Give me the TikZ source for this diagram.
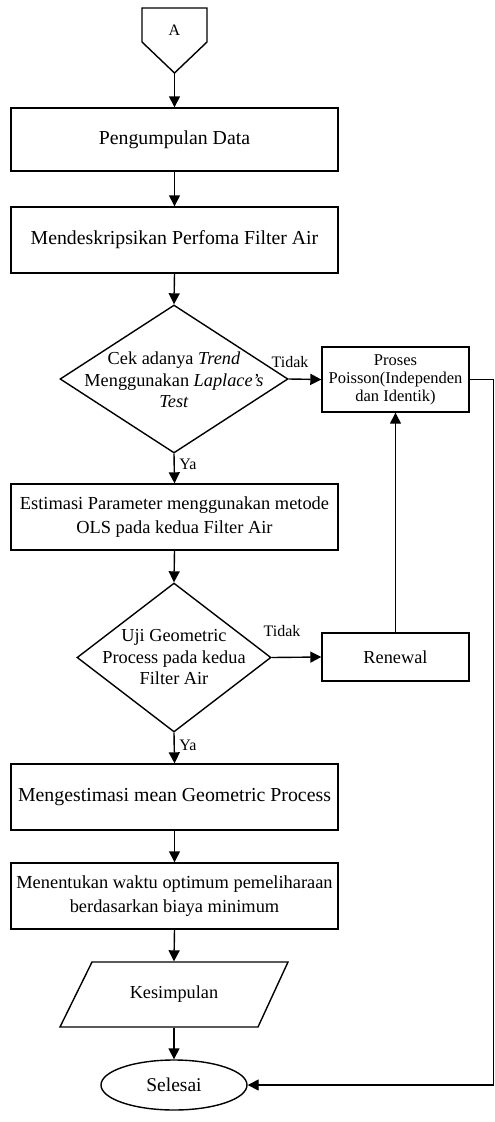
\documentclass[tikz,border=0pt]{standalone}
\usepackage{fontspec}
\setmainfont{Liberation Serif}
\usetikzlibrary{arrows.meta,shapes.geometric}
\begin{document}
\begin{tikzpicture}[x=1pt,y=-1pt,
  line width=1.4pt,
  arr/.style={-{Triangle[length=11pt,width=11pt]}},
  procbox/.style={draw,rectangle,minimum width=327pt,minimum height=66pt,inner sep=0pt,align=center,font=\fontsize{19.8}{24}\selectfont},
  longbox/.style={procbox,font=\fontsize{18.4}{24}\selectfont},
  sidebox/.style={draw,rectangle,minimum width=147pt,inner sep=0pt,align=center,font=\fontsize{16.5}{18}\selectfont},
  decbox/.style={draw,diamond,inner sep=0pt},
  dectext/.style={align=center,font=\fontsize{18.3}{21.5}\selectfont},
  lbl/.style={font=\fontsize{16}{18}\selectfont,inner sep=0pt}
]
\useasboundingbox (0,0) rectangle (495,1122);
% off-page connector A
\draw (142,8) -- (207,8) -- (207,42) -- (174.5,73) -- (142,42) -- cycle;
\node[lbl] (A) at (174.5,30) {A};
\coordinate (Abot) at (174.5,73);
% main boxes
\node[procbox,minimum height=63pt] (b1) at (174.5,139.5) {Pengumpulan Data};
\node[procbox] (b2) at (174.5,240) {Mendeskripsikan Perfoma Filter Air};
\node[decbox,minimum width=228pt,minimum height=148pt] (d1) at (174,379) {};
\node[dectext] (d1t) at (174,380) {Cek adanya \textit{Trend}\\Menggunakan \textit{Laplace’s}\\\textit{Test}};
\node[sidebox,minimum height=65pt] (pr) at (395.5,379.5) {Proses\\Poisson(Independen\\dan Identik)};
\node[longbox] (b3) at (174.5,517) {Estimasi Parameter menggunakan metode\\OLS pada kedua Filter Air};
\node[decbox,minimum width=194pt,minimum height=149pt] (d2) at (174,657.5) {};
\node[dectext] (d2t) at (174,657.5) {Uji Geometric\\Process pada kedua\\Filter Air};
\node[sidebox,minimum height=48pt,font=\fontsize{18.3}{21}\selectfont] (rn) at (395.5,657) {Renewal};
\node[procbox] (b4) at (174.5,797) {Mengestimasi mean Geometric Process};
\node[longbox] (b5) at (174.5,896) {Menentukan waktu optimum pemeliharaan\\berdasarkan biaya minimum};
% parallelogram
\draw (92,962) -- (288,962) -- (258,1027) -- (60,1027) -- cycle;
\node[minimum width=196pt,minimum height=65pt,inner sep=0pt,font=\fontsize{18.3}{21}\selectfont] (kes) at (174,994.5) {Kesimpulan};
% end ellipse
\node[draw,ellipse,minimum width=146pt,minimum height=50pt,inner sep=0pt,font=\fontsize{19.5}{22}\selectfont] (sel) at (174,1085) {Selesai};
% connectors
\draw[arr] (Abot) -- (b1.north);
\draw[arr] (b1) -- (b2);
\draw[arr] (b2.south) -- (d1.north);
\draw[arr] (d1.south) -- (b3.north);
\draw[arr] (d1.east) -- (pr.west);
\draw[arr] (b3.south) -- (d2.north);
\draw[arr] (d2.east) -- (rn.west);
\draw[arr] (rn.north) -- (pr.south);
\draw[arr] (d2.south) -- (b4.north);
\draw[arr] (b4) -- (b5);
\draw[arr] (b5.south) -- (kes.north);
\draw[arr] (kes.south) -- (sel.north);
\coordinate (rt) at (493.5,379.5);
\coordinate (rb) at (493.5,1085);
\draw[arr] (pr.east) -- (rt) -- (rb) -- (sel.east);
% labels
\node[lbl] (t1) at (290,362) {Tidak};
\node[lbl] (t2) at (282,631) {Tidak};
\node[lbl] (y1) at (188,464) {Ya};
\node[lbl] (y2) at (188,745) {Ya};
\end{tikzpicture}
\end{document}
